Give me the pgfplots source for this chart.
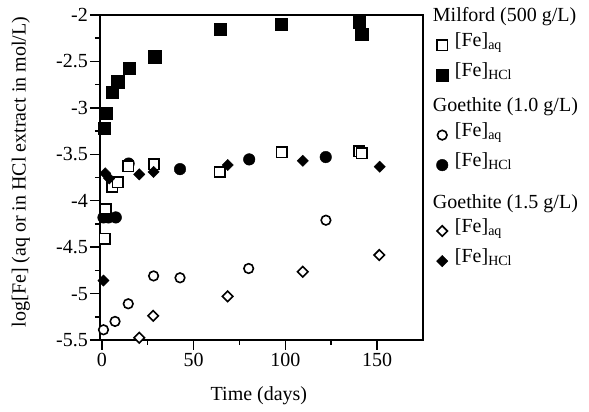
\documentclass[border=0pt]{standalone}
\usepackage{fontspec}
\setmainfont{Liberation Serif}
\usepackage{pgfplots}
\pgfplotsset{compat=1.18}

% marker styles
\pgfplotsset{
  sqopen/.style={only marks, mark=square*, draw=black, fill=white, line width=1.6pt, mark size=5.2pt},
  sqfill/.style={only marks, mark=square*, draw=black, fill=black, line width=0.4pt, mark size=6.2pt},
  ciopen/.style={only marks, mark=*, draw=black, fill=white, line width=1.6pt, mark size=4.8pt},
  cifill/.style={only marks, mark=*, draw=black, fill=black, line width=0.4pt, mark size=5.8pt},
  diopen/.style={only marks, mark=square*, mark options={rotate=45}, draw=black, fill=white, line width=1.6pt, mark size=3.7pt},
  difill/.style={only marks, mark=square*, mark options={rotate=45}, draw=black, fill=black, line width=0.4pt, mark size=4.0pt},
}

\begin{document}
\begin{tikzpicture}[font=\fontsize{20}{24}\selectfont]
\useasboundingbox (-100pt,-72pt) rectangle (489pt,340pt);
\begin{axis}[
  scale only axis,
  width=323pt, height=325pt,
  xmin=-1, xmax=175, ymin=-5.5, ymax=-2,
  xtick={0,50,100,150}, xticklabels={0,50,100,150},
  ytick={-5.5,-5,-4.5,-4,-3.5,-3,-2.5,-2},
  yticklabels={-5.5,-5,-4.5,-4,-3.5,-3,-2.5,-2},
  minor x tick num=1, minor y tick num=1,
  tick pos=left, tick align=outside,
  major tick length=10pt, minor tick length=5pt,
  axis line style={line width=1.5pt},
  every tick/.style={black, line width=1.5pt},
  yticklabel style={inner sep=2pt},
  xlabel={Time (days)},
  ylabel={log[Fe] (aq or in HCl extract in mol/L)},
  xlabel style={at={(axis description cs:0.492,-0.172)}, anchor=center},
  ylabel style={at={(axis description cs:-0.245,0.517)}, anchor=center},
  legend cell align=left,
  legend image post style={yshift=2pt},
  legend style={at={(axis description cs:1.0325,1.028)}, anchor=north west,
    draw=none, fill=none, inner sep=0pt, row sep=0pt, column sep=6.5pt,
    nodes={inner sep=0pt, text depth=}},
]

% Goethite 1.0 g/L, HCl extract
\addplot[cifill, forget plot] table {
0.9   -4.18
3.6   -4.18
7.6   -4.18
14.6  -3.60
42.6  -3.66
80.3  -3.555
122.0 -3.53
};
% Goethite 1.0 g/L, aqueous
\addplot[ciopen, forget plot] table {
0.9   -5.39
7.2   -5.30
14.4  -5.11
28.2  -4.81
42.6  -4.83
80.0  -4.73
122.1 -4.21
};
% Milford 500 g/L, aqueous
\addplot[sqopen, forget plot] table {
1.5   -4.41
2.2   -4.09
5.8   -3.85
8.6   -3.80
14.4  -3.63
28.4  -3.61
64.3  -3.69
97.9  -3.48
140.1 -3.47
141.5 -3.49
};
% Milford 500 g/L, HCl extract
\addplot[sqfill, forget plot] table {
1.3   -3.22
2.4   -3.06
5.8   -2.83
8.6   -2.72
14.8  -2.57
28.8  -2.45
64.5  -2.15
97.7  -2.10
140.1 -2.08
141.5 -2.21
};
% Goethite 1.5 g/L, aqueous
\addplot[diopen, forget plot] table {
20.4  -5.475
28.0  -5.24
68.5  -5.03
109.5 -4.765
151.2 -4.585
};
% Goethite 1.5 g/L, HCl extract
\addplot[difill, forget plot] table {
0.9   -4.86
1.8   -3.705
4.0   -3.76
20.4  -3.716
28.2  -3.69
68.6  -3.615
109.5 -3.57
151.4 -3.634
};

\addlegendimage{empty legend}
\addlegendentry{\hspace*{-22pt}\raisebox{0pt}[15pt][11pt]{Milford (500 g/L)}}
\addlegendimage{sqopen}
\addlegendentry{\raisebox{0pt}[14pt][16pt]{[Fe]\textsubscript{aq}}}
\addlegendimage{sqfill}
\addlegendentry{\raisebox{0pt}[14pt][16pt]{[Fe]\textsubscript{HCl}}}
\addlegendimage{empty legend}
\addlegendentry{\hspace*{-22pt}\raisebox{0pt}[19pt][11pt]{Goethite (1.0 g/L)}}
\addlegendimage{ciopen}
\addlegendentry{\raisebox{0pt}[14pt][16pt]{[Fe]\textsubscript{aq}}}
\addlegendimage{cifill}
\addlegendentry{\raisebox{0pt}[14pt][16pt]{[Fe]\textsubscript{HCl}}}
\addlegendimage{empty legend}
\addlegendentry{\hspace*{-22pt}\raisebox{0pt}[26pt][10pt]{Goethite (1.5 g/L)}}
\addlegendimage{diopen}
\addlegendentry{\raisebox{0pt}[14pt][16pt]{[Fe]\textsubscript{aq}}}
\addlegendimage{difill}
\addlegendentry{\raisebox{0pt}[14pt][16pt]{[Fe]\textsubscript{HCl}}}
\end{axis}
\end{tikzpicture}
\end{document}
